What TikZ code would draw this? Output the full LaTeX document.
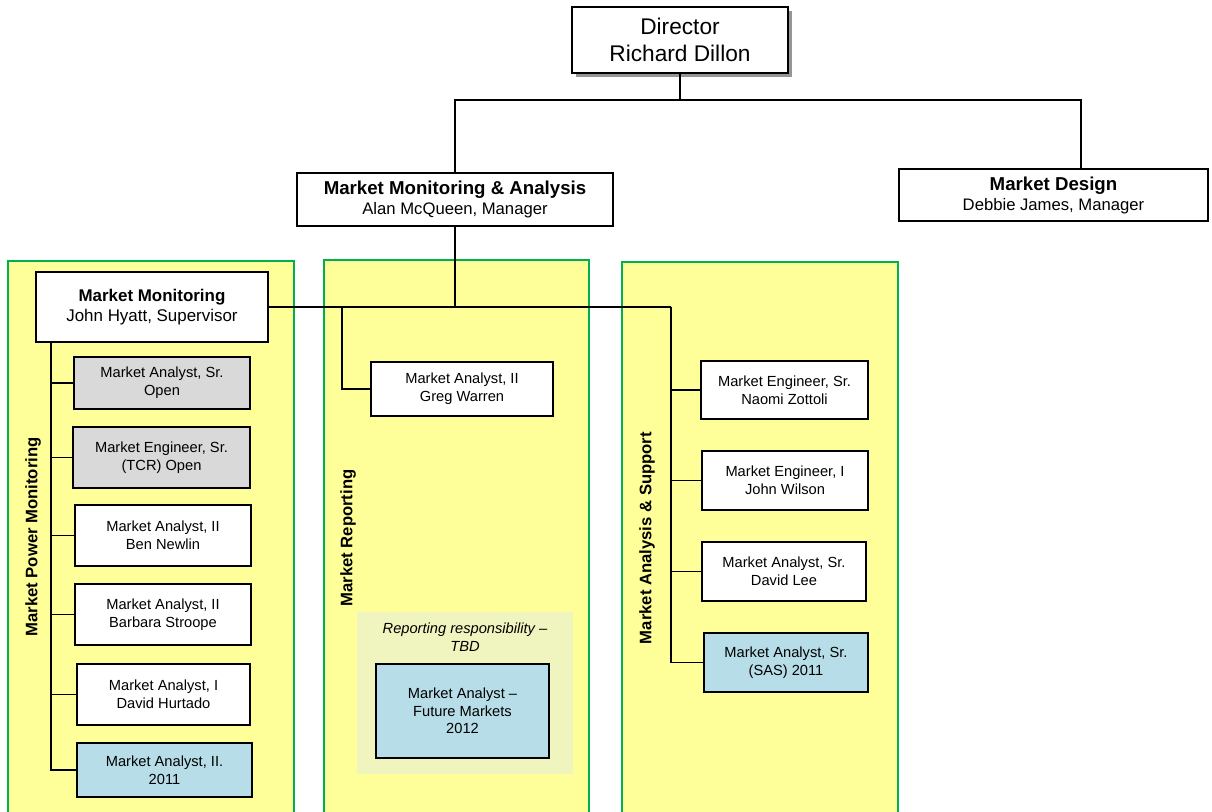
\documentclass[tikz,border=0pt]{standalone}
\usepackage{fontspec}
\setmainfont{Liberation Sans}
\definecolor{panelyellow}{RGB}{255,255,153}
\definecolor{panelgreen}{RGB}{0,176,80}
\definecolor{boxgray}{RGB}{217,217,217}
\definecolor{boxblue}{RGB}{183,222,232}
\definecolor{shadegreen}{RGB}{240,245,192}
\definecolor{shadowgray}{RGB}{150,150,150}
\begin{document}
\begin{tikzpicture}[x=0.75pt,y=-0.75pt,
  bx/.style 2 args={draw=black, line width=1.4pt, minimum width=#1*0.75pt, minimum height=#2*0.75pt, inner sep=0pt, align=center, fill=white},
  small/.style={font=\fontsize{11}{13.3}\selectfont},
  graybox/.style={fill=boxgray},
  bluebox/.style={fill=boxblue},
  panel/.style={draw=panelgreen, line width=1.3pt, fill=panelyellow},
  vlabel/.style={rotate=90, font=\fontsize{12.5}{15}\selectfont\bfseries},
  conn/.style={draw=black, line width=0.8pt}]
\useasboundingbox (0,0) rectangle (1212,812);
\fill[white] (0,0) rectangle (1212,812);
% panels
\begin{scope}
\clip (0,0) rectangle (1212,812);
\path[panel] (8,261) rectangle (294,830);
\path[panel] (324,260) rectangle (589,830);
\path[panel] (622,262) rectangle (898,830);
\end{scope}
\fill[shadegreen] (357,612) rectangle (573,774);
% panel labels
\node[vlabel] (lpm) at (33,537) {Market Power Monitoring};
\node[vlabel] (lmr) at (348,538) {Market Reporting};
\node[vlabel] (lmas) at (647,538) {Market Analysis \& Support};
% top boxes
\fill[shadowgray] (576,11) rectangle (792,77);
\node[bx={216}{66}, line width=1.3pt, font=\fontsize{17}{20.5}\selectfont] (dir) at (680,40) {Director\\Richard Dillon};
\node[bx={316}{53}, font=\fontsize{12.5}{15}\selectfont] (mma) at (455,199.5) {{\fontsize{14}{16}\selectfont\bfseries Market Monitoring \& Analysis}\\[0pt]Alan McQueen, Manager};
\node[bx={309}{52}, font=\fontsize{12.5}{15}\selectfont] (md) at (1053.5,195) {{\fontsize{14}{16}\selectfont\bfseries Market Design}\\[0pt]Debbie James, Manager};
\node[bx={232}{70}, font=\fontsize{12.7}{15.5}\selectfont] (mm) at (152,307) {{\bfseries Market Monitoring}\\[-0.5pt]John Hyatt, Supervisor};
% left boxes
\node[bx={176}{52}, graybox, small] (l1) at (162,383) {Market Analyst, Sr.\\Open};
\node[bx={177}{61}, graybox, small] (l2) at (161.5,457.5) {Market Engineer, Sr.\\(TCR) Open};
\node[bx={176}{61}, small] (l3) at (163,535.5) {Market Analyst, II\\Ben Newlin};
\node[bx={176}{61}, small] (l4) at (163,614.5) {Market Analyst, II\\Barbara Stroope};
\node[bx={173}{61}, small] (l5) at (163.5,694.5) {Market Analyst, I\\David Hurtado};
\node[bx={175}{54}, bluebox, small] (l6) at (164.5,770) {Market Analyst, II.\\2011};
% middle
\node[bx={182}{54}, small] (gw) at (462,389) {Market Analyst, II\\Greg Warren};
\node[font=\fontsize{11}{13.3}\selectfont\itshape, align=center] (rr) at (465,637.5) {Reporting responsibility --\\TBD};
\node[bx={173}{94}, bluebox, small] (fut) at (462.5,711) {Market Analyst --\\Future Markets\\2012};
% right boxes
\node[bx={167}{58}, small] (r1) at (784.5,390) {Market Engineer, Sr.\\Naomi Zottoli};
\node[bx={166}{59}, small] (r2) at (785,480.5) {Market Engineer, I\\John Wilson};
\node[bx={164}{59}, small] (r3) at (784,571.5) {Market Analyst, Sr.\\David Lee};
\node[bx={164}{59}, bluebox, small] (r4) at (786,662.5) {Market Analyst, Sr.\\(SAS) 2011};
% connectors
\coordinate (bus) at (680,100);
\coordinate (mdc) at (1081,100);
\coordinate (hub) at (455,307);
\coordinate (rtop) at (671,307);
\coordinate (mtop) at (342,307);
\coordinate (ltop) at (51,342);
\draw[conn] (dir.south) -- (bus);
\draw[conn] (mma.north) |- (bus) -- (mdc) -- (mdc |- md.north);
\draw[conn] (mma.south) -- (hub);
\draw[conn] (mm.east) -- (rtop);
\draw[conn] (mtop) |- (gw.west);
\foreach \b in {l1,l2,l3,l4,l5,l6} \draw[conn] (ltop) |- (\b.west);
\foreach \b in {r1,r2,r3,r4} \draw[conn] (rtop) |- (\b.west);
\end{tikzpicture}
\end{document}
